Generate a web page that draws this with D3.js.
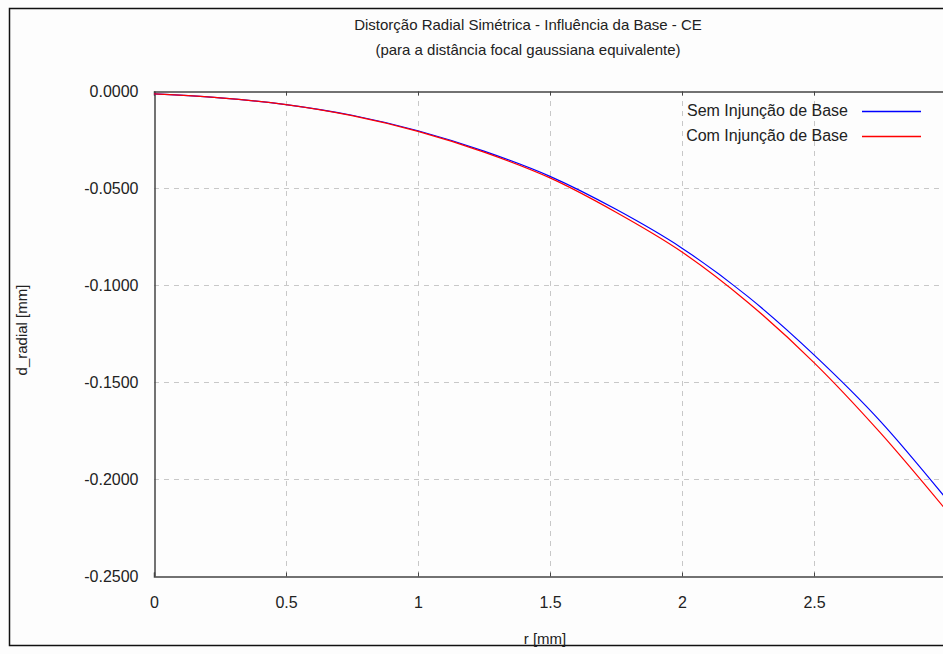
<!DOCTYPE html>
<html>
<head>
<meta charset="utf-8">
<script src="https://cdn.jsdelivr.net/npm/d3@7"></script>
<style>
  body { margin: 0; background: #fdfdfd; }
  text { font-family: "Liberation Sans", Arial, sans-serif; fill: #222; }
</style>
</head>
<body>
<div class="canvas"></div>
<script>
const width = 943, height = 654

// data
const rValues = [0, 0.25, 0.5, 0.75, 1.0, 1.25, 1.5, 1.75, 2.0, 2.25, 2.5, 2.75, 3.0]
const semInjuncao = [-0.0015, -0.0035, -0.007, -0.0125, -0.0205, -0.031, -0.044, -0.061, -0.081, -0.106, -0.136, -0.170, -0.210]
const comInjuncao = [-0.0015, -0.0035, -0.007, -0.0127, -0.0208, -0.0315, -0.0448, -0.0625, -0.083, -0.109, -0.140, -0.176, -0.216]
const xTicks = [0, 0.5, 1, 1.5, 2, 2.5]
const yTicks = [0, -0.05, -0.1, -0.15, -0.2, -0.25]
const seriesNames = ['Sem Injunção de Base', 'Com Injunção de Base']
const seriesColors = ['#0000ff', '#ff0000']

const svg = d3.select('.canvas').append('svg').attr('width', width).attr('height', height)

// outer frame
svg.append('rect')
    .attr('x', 9.5).attr('y', 8.5)
    .attr('width', 950).attr('height', 637)
    .attr('fill', 'none').attr('stroke', '#111').attr('stroke-width', 1.5)

const [mt, ml, mb] = [91, 154, 576]

const x = d3.scaleLinear().domain([0, 3]).range([ml, ml + 792])
const y = d3.scaleLinear().domain([-0.25, 0]).range([mb, mt])

// grid
const grid = svg.append('g')
grid.selectAll('.vx').data(xTicks.slice(1)).enter().append('line')
    .attr('x1', d => Math.round(x(d)) + 0.5).attr('x2', d => Math.round(x(d)) + 0.5)
    .attr('y1', mt).attr('y2', mb)
    .attr('stroke', '#c8c8c8').attr('stroke-dasharray', '5,5')
grid.selectAll('.hy').data(yTicks.slice(1, -1)).enter().append('line')
    .attr('y1', d => Math.round(y(d)) + 0.5).attr('y2', d => Math.round(y(d)) + 0.5)
    .attr('x1', ml).attr('x2', width)
    .attr('stroke', '#c8c8c8').attr('stroke-dasharray', '5,5')

// axes
const xAxisG = svg.append('g').attr('transform', `translate(0, ${mb + 0.5})`)
xAxisG.call(d3.axisBottom(x).tickValues(xTicks).tickSize(-4).tickPadding(20).tickFormat(d3.format('')))
const xTopG = svg.append('g').attr('transform', `translate(0, ${mt + 0.5})`)
xTopG.call(d3.axisTop(x).tickValues(xTicks).tickSize(-4).tickFormat(''))
const yAxisG = svg.append('g').attr('transform', `translate(${ml + 0.5}, 0)`)
yAxisG.call(d3.axisLeft(y).tickValues(yTicks).tickSize(0).tickPadding(16).tickFormat(d3.format('.4f')))

svg.selectAll('.domain').attr('stroke', '#444').attr('stroke-width', 1.5)
svg.selectAll('.tick line').attr('stroke', '#444')
svg.selectAll('.tick text').style('font-size', '16px').attr('fill', '#222')
yAxisG.selectAll('.tick text').text(d => d3.format('.4f')(d).replace('−', '-'))

// lines
const line = d3.line().x((d, i) => x(rValues[i])).y(d => y(d)).curve(d3.curveMonotoneX)
;[semInjuncao, comInjuncao].forEach((s, i) => {
    svg.append('path').datum(s)
        .attr('d', line)
        .attr('fill', 'none')
        .attr('stroke', seriesColors[i])
        .attr('stroke-width', 1.2)
})

// legend
seriesNames.forEach((name, i) => {
    const ly = 111 + i * 25
    svg.append('text').attr('x', 848).attr('y', ly + 5)
        .attr('text-anchor', 'end').style('font-size', '16px').text(name)
    svg.append('line').attr('x1', 862).attr('x2', 921).attr('y1', ly + 0.5).attr('y2', ly + 0.5)
        .style('stroke', seriesColors[i]).attr('stroke-width', 1.3)
})

// titles
svg.append('text').attr('x', 528).attr('y', 30).attr('text-anchor', 'middle')
    .style('font-size', '15px').text('Distorção Radial Simétrica - Influência da Base - CE')
svg.append('text').attr('x', 528).attr('y', 55).attr('text-anchor', 'middle')
    .style('font-size', '15px').text('(para a distância focal gaussiana equivalente)')
svg.append('text').attr('x', 545).attr('y', 644).attr('text-anchor', 'middle')
    .style('font-size', '15px').text('r [mm]')
svg.append('text').attr('transform', 'translate(27, 330) rotate(-90)').attr('text-anchor', 'middle')
    .style('font-size', '15px').text('d_radial [mm]')
</script>
</body>
</html>
